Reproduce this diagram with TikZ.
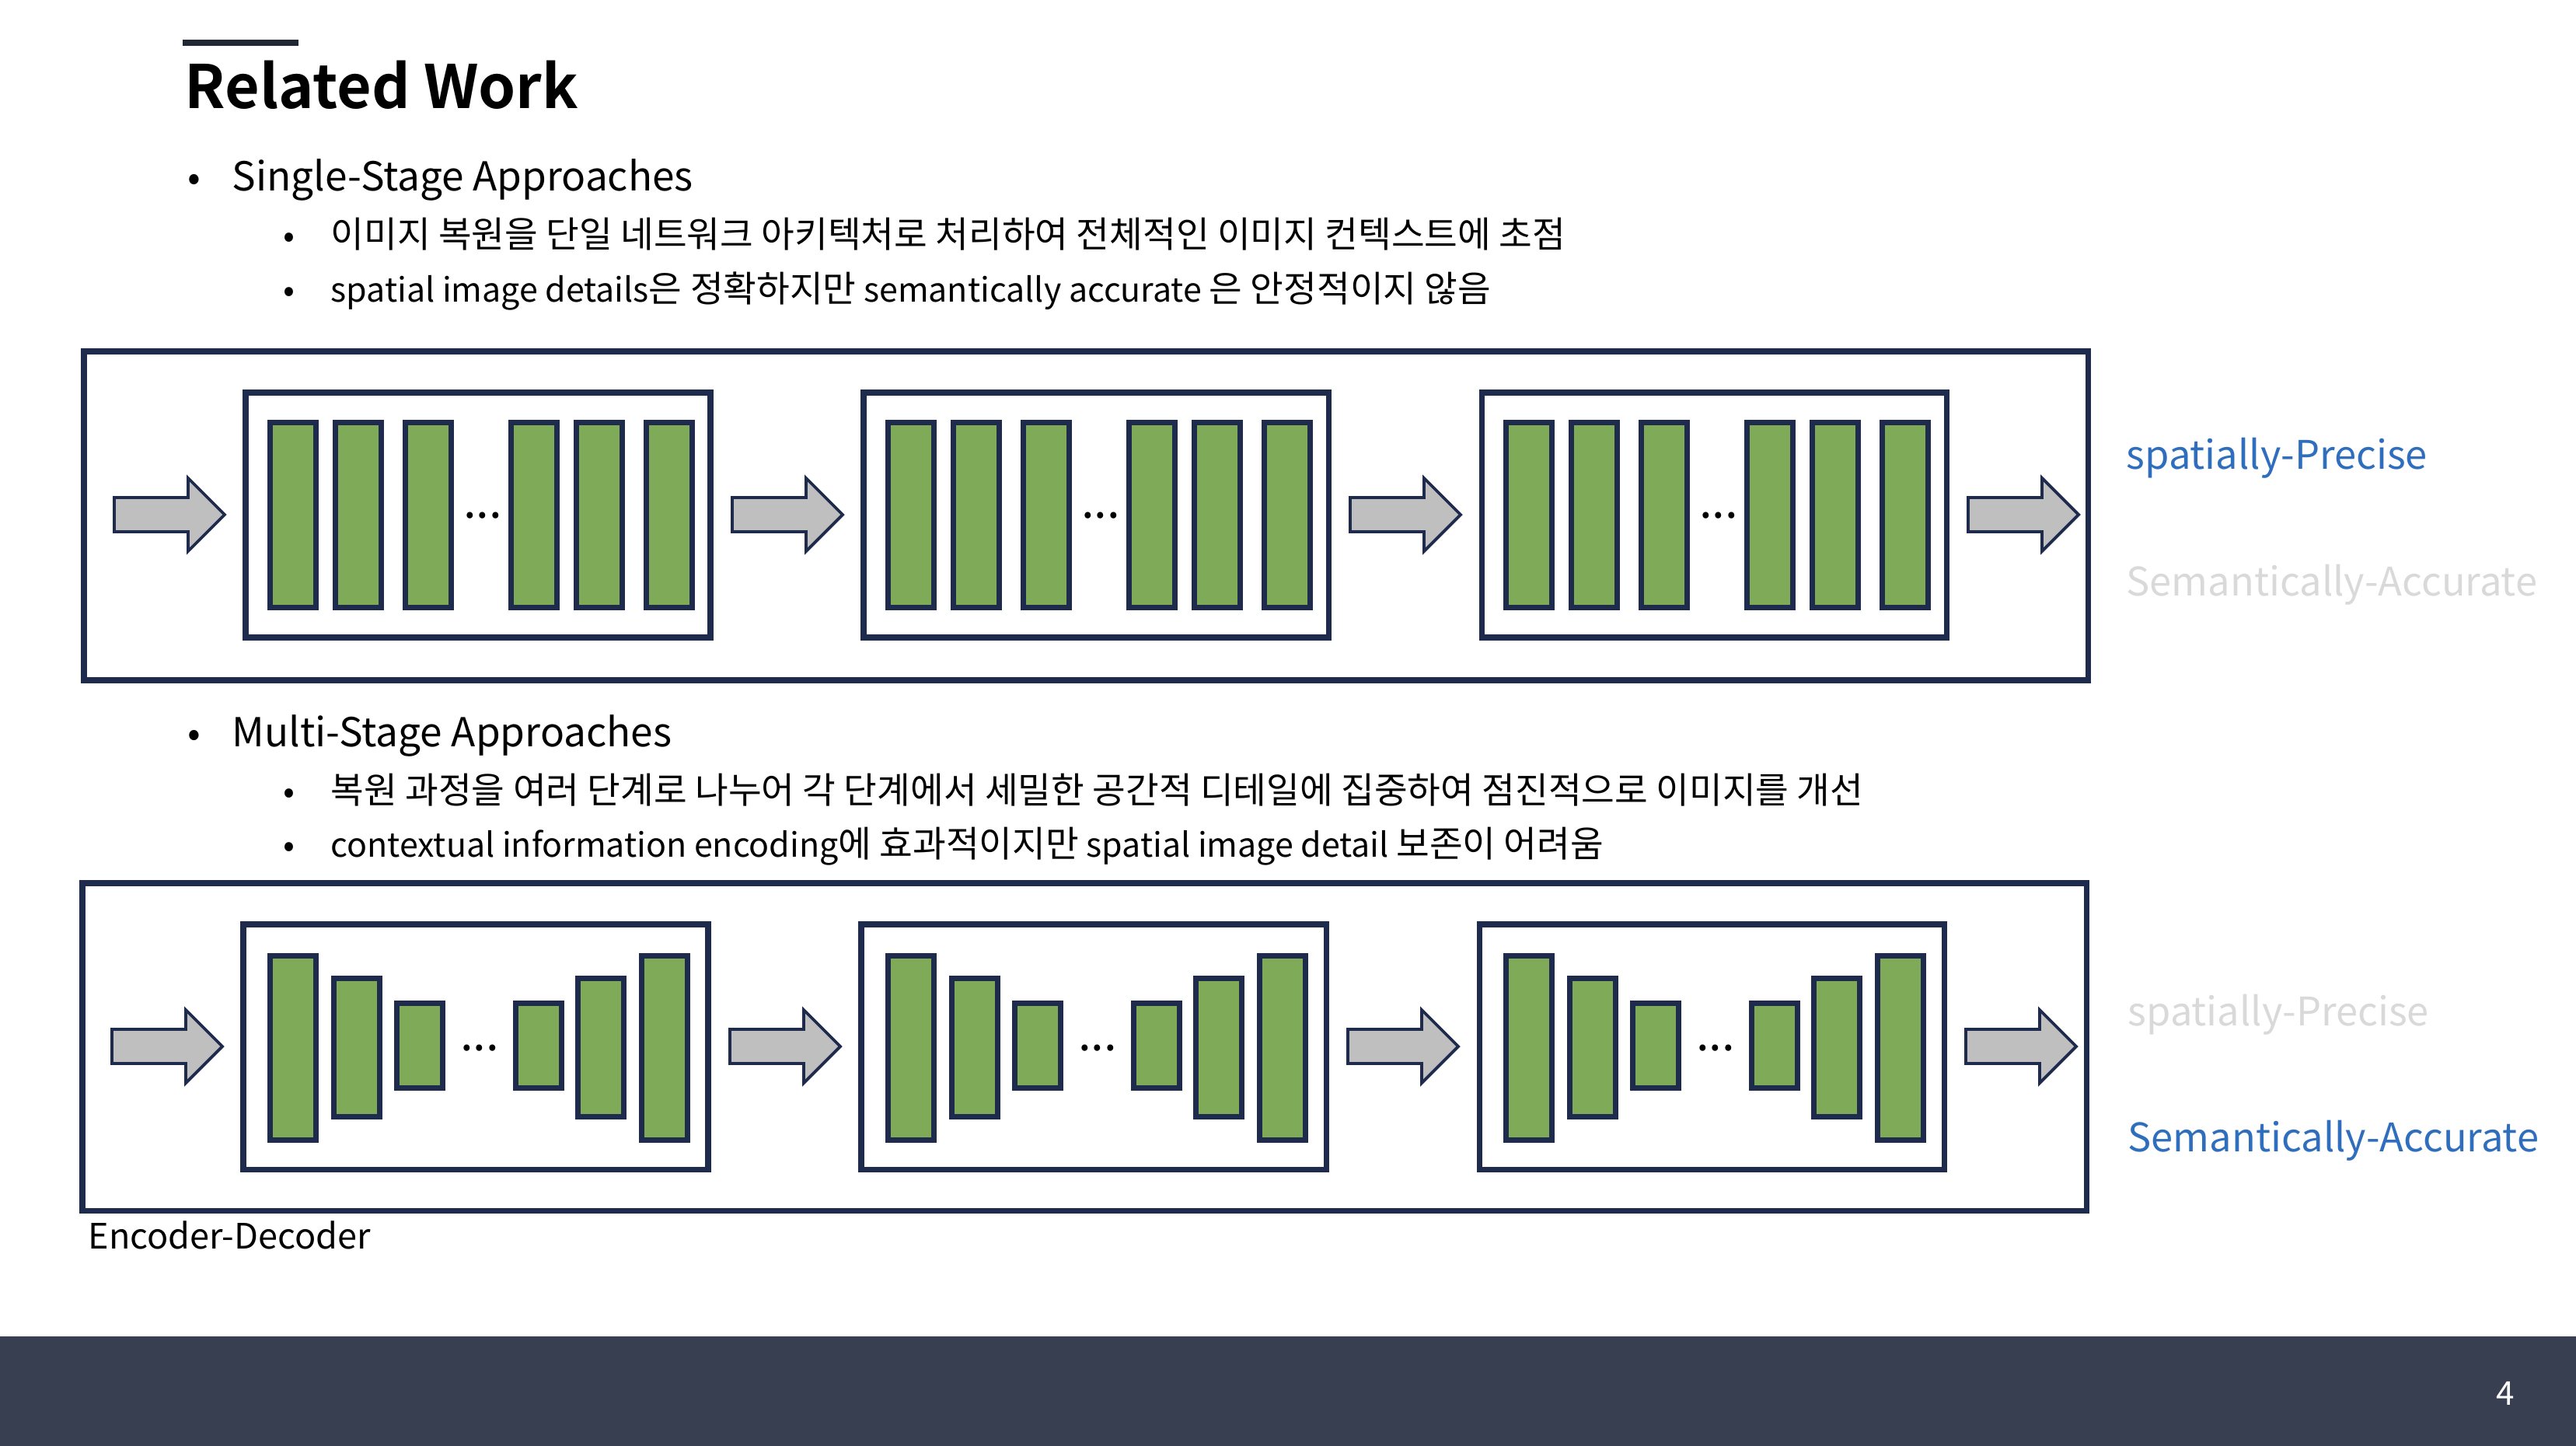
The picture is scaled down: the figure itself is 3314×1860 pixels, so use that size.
\documentclass[tikz,border=0pt]{standalone}
\usepackage{fontspec}
\setmainfont{Noto Sans CJK KR}[BoldFont={Noto Sans CJK KR Bold}]
\definecolor{navy}{HTML}{1F2B4C}
\definecolor{barfill}{HTML}{7FAA57}
\definecolor{arrowfill}{HTML}{BFBFBF}
\definecolor{accent}{HTML}{2F6EBD}
\definecolor{faded}{HTML}{D9D9D9}
\definecolor{band}{HTML}{373F50}
\definecolor{titlebar}{HTML}{222833}
% Hangul runs inside mixed lines are set a little larger
\newcommand\hg[1]{{\fontsize{13.2}{15}\selectfont #1}}
\tikzset{
  frame/.style={draw=navy, line width=2pt},
  bar/.style={draw=navy, fill=barfill, line width=2pt},
  blockarrow/.style={draw=navy, fill=arrowfill, line width=1.1pt, line join=miter},
  txt/.style={anchor=base west, inner sep=0pt},
  heading/.style={txt, font=\bfseries\fontsize{21.9}{26}\selectfont},
  lvlone/.style={txt, font=\fontsize{14.6}{17}\selectfont},
  lvltwo/.style={txt, font=\fontsize{12.2}{15}\selectfont},
  lvltwokr/.style={txt, font=\fontsize{13.2}{15}\selectfont},
  dotmark/.style={anchor=base, inner sep=0pt},
  tag/.style={txt, font=\fontsize{14.4}{17}\selectfont},
  dots/.style={anchor=base, inner sep=0pt, font=\fontsize{17}{20}\selectfont},
}
\begin{document}
\begin{tikzpicture}[x=0.01cm, y=-0.01cm]
\useasboundingbox (0,0) rectangle (3314,1860);

% footer band and page number
\fill[band] (0,1719) rectangle (3314,1860);
\node[dotmark, text=white, font=\fontsize{12}{14}\selectfont] (page) at (3223,1807) {4};

% title
\fill[titlebar] (235,51) rectangle (384,59);
\node[heading] (title) at (237,139) {Related Work};

% single-stage bullets
\node[dotmark, font=\fontsize{14}{16}\selectfont] (b1) at (250,245) {•};
\node[lvlone] (single) at (298,245) {Single-Stage Approaches};
\node[dotmark, font=\fontsize{12.5}{15}\selectfont] (b11) at (372,318) {•};
\node[lvltwokr] (s1) at (425,318) {이미지 복원을 단일 네트워크 아키텍처로 처리하여 전체적인 이미지 컨텍스트에 초점};
\node[dotmark, font=\fontsize{12.5}{15}\selectfont] (b12) at (372,388) {•};
\node[lvltwo] (s2) at (425,388) {spatial image details\hg{은 정확하지만} semantically accurate \hg{은 안정적이지 않음}};

% single-stage diagram
\draw[frame] (108,452) rectangle (2686,875);
\foreach \k in {0,1,2}{
  \pgfmathsetmacro\L{316+795*\k}
  \draw[frame] (\L,505) rectangle (\L+598,820);
  \foreach \o in {28,112,202,338,422,512}{
    \draw[bar] (\L+\o+3.5,543.5) rectangle (\L+\o+62.5,781.5);
  }
  \node[dots] (d\k) at (\L+305,666) {...};
}
\foreach \k in {0,1,2,3}{
  \pgfmathsetmacro\A{147+795*\k}
  \draw[blockarrow] (\A,640) -- (\A+95,640) -- (\A+95,615) -- (\A+142,662)
    -- (\A+95,709) -- (\A+95,684) -- (\A,684) -- cycle;
}
\node[tag, text=accent] (sp1) at (2735,603) {spatially-Precise};
\node[tag, text=faded] (sa1) at (2735,766) {Semantically-Accurate};

% multi-stage bullets
\node[dotmark, font=\fontsize{14}{16}\selectfont] (b2) at (250,960) {•};
\node[lvlone] (multi) at (298,960) {Multi-Stage Approaches};
\node[dotmark, font=\fontsize{12.5}{15}\selectfont] (b21) at (372,1033) {•};
\node[lvltwokr] (m1) at (425,1033) {복원 과정을 여러 단계로 나누어 각 단계에서 세밀한 공간적 디테일에 집중하여 점진적으로 이미지를 개선};
\node[dotmark, font=\fontsize{12.5}{15}\selectfont] (b22) at (372,1102) {•};
\node[lvltwo] (m2) at (425,1102) {contextual information encoding\hg{에 효과적이지만} spatial image detail \hg{보존이 어려움}};

% multi-stage (encoder-decoder) diagram
\draw[frame] (106,1136) rectangle (2684,1557);
\foreach \k in {0,1,2}{
  \pgfmathsetmacro\L{313+795*\k}
  \draw[frame] (\L,1189) rectangle (\L+598,1504);
  \foreach \o/\t/\b in {31/1226/1470, 113/1255/1440, 194/1287/1403,
                        347/1287/1403, 427/1255/1440, 509/1226/1470}{
    \draw[bar] (\L+\o+3.5,\t+3.5) rectangle (\L+\o+62.5,\b-3.5);
  }
  \node[dots] (e\k) at (\L+304,1351) {...};
}
\foreach \k in {0,1,2,3}{
  \pgfmathsetmacro\A{144+795*\k}
  \draw[blockarrow] (\A,1324) -- (\A+95,1324) -- (\A+95,1299) -- (\A+142,1346)
    -- (\A+95,1393) -- (\A+95,1368) -- (\A,1368) -- cycle;
}
\node[tag, text=faded] (sp2) at (2737,1319) {spatially-Precise};
\node[tag, text=accent] (sa2) at (2737,1481) {Semantically-Accurate};
\node[txt, font=\fontsize{12.8}{15}\selectfont] (encdec) at (113,1606) {Encoder-Decoder};
\end{tikzpicture}
\end{document}
